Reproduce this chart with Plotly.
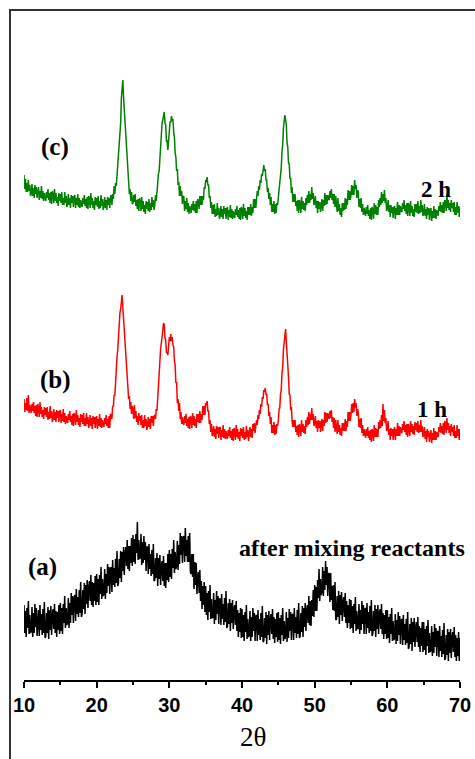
import plotly.graph_objects as go

# 2-theta sampling grid (degrees), 0.1 deg steps from 10 to 70
two_theta = [round(10 + 0.1 * i, 1) for i in range(601)]

# (c) 2 h -- intensity (a.u., stacked); one row = 1 degree
int_2h = [
    505, 491, 501, 488, 497, 488, 500, 489, 495, 484,
    487, 496, 484, 492, 482, 495, 486, 493, 482, 492,
    493, 480, 489, 482, 494, 481, 489, 479, 487, 482,
    479, 488, 482, 491, 480, 487, 477, 488, 476, 489,
    486, 477, 491, 479, 487, 477, 483, 474, 487, 479,
    486, 477, 488, 475, 482, 475, 488, 477, 484, 473,
    477, 486, 475, 482, 472, 485, 477, 484, 473, 483,
    485, 472, 482, 475, 486, 473, 482, 472, 480, 475,
    473, 482, 476, 485, 474, 481, 472, 483, 471, 484,
    481, 472, 487, 475, 482, 472, 479, 470, 483, 475,
    482, 473, 484, 471, 479, 472, 485, 474, 481, 470,
    474, 483, 472, 480, 470, 483, 475, 482, 472, 482,
    485, 475, 486, 481, 494, 486, 497, 494, 505, 508,
    520, 528, 547, 557, 582, 593, 600, 583, 570, 555,
    548, 527, 522, 502, 500, 486, 491, 479, 488, 476,
    477, 485, 478, 486, 474, 480, 471, 481, 469, 482,
    478, 469, 483, 471, 479, 468, 475, 466, 479, 471,
    478, 469, 481, 468, 477, 470, 483, 473, 480, 470,
    475, 485, 479, 491, 491, 506, 509, 525, 532, 551,
    557, 560, 568, 568, 557, 555, 539, 539, 530, 543,
    545, 558, 558, 564, 559, 561, 547, 543, 527, 523,
    509, 511, 495, 498, 484, 494, 484, 489, 476, 484,
    483, 469, 479, 471, 482, 468, 477, 466, 474, 469,
    467, 476, 470, 479, 469, 476, 467, 479, 467, 481,
    479, 471, 484, 475, 484, 475, 484, 480, 493, 491,
    500, 498, 503, 495, 495, 482, 484, 472, 478, 466,
    475, 466, 476, 463, 471, 464, 477, 465, 472, 461,
    465, 474, 463, 471, 461, 474, 466, 472, 461, 471,
    473, 460, 470, 463, 475, 462, 471, 461, 469, 464,
    462, 471, 465, 474, 463, 470, 461, 472, 460, 473,
    470, 461, 476, 464, 472, 462, 469, 460, 473, 465,
    473, 465, 476, 464, 473, 467, 481, 472, 481, 472,
    479, 489, 484, 494, 490, 500, 497, 506, 504, 512,
    515, 509, 511, 500, 500, 488, 492, 481, 487, 475,
    483, 468, 476, 468, 479, 466, 476, 467, 477, 475,
    482, 494, 495, 508, 512, 528, 535, 552, 558, 565,
    560, 555, 537, 533, 517, 516, 501, 502, 487, 493,
    478, 486, 478, 486, 474, 479, 469, 480, 467, 480,
    476, 467, 483, 471, 479, 470, 477, 469, 482, 475,
    485, 477, 489, 477, 486, 480, 493, 481, 487, 475,
    477, 484, 472, 479, 467, 479, 471, 478, 468, 478,
    481, 469, 480, 474, 487, 475, 485, 476, 485, 481,
    480, 489, 482, 491, 480, 486, 476, 486, 473, 484,
    478, 468, 482, 469, 476, 465, 472, 463, 477, 469,
    477, 470, 482, 471, 481, 475, 490, 480, 489, 480,
    485, 495, 485, 494, 485, 500, 491, 495, 482, 490,
    488, 473, 481, 472, 482, 468, 476, 465, 472, 467,
    464, 473, 466, 475, 464, 470, 461, 472, 460, 473,
    470, 461, 477, 466, 475, 465, 473, 465, 480, 473,
    482, 475, 488, 477, 486, 479, 490, 477, 482, 469,
    472, 480, 468, 475, 463, 475, 467, 473, 462, 472,
    474, 461, 472, 465, 478, 465, 475, 465, 474, 469,
    468, 477, 471, 480, 469, 475, 466, 477, 464, 477,
    473, 464, 479, 467, 474, 464, 471, 463, 476, 468,
    476, 467, 479, 466, 474, 467, 480, 468, 475, 464,
    467, 476, 464, 471, 461, 473, 465, 472, 460, 470,
    472, 459, 469, 462, 474, 462, 471, 461, 470, 465,
    465, 474, 469, 478, 468, 475, 467, 478, 467, 480,
    478, 469, 486, 472, 480, 470, 477, 468, 480, 472,
    477, 468, 478, 465, 473, 465, 478, 467, 474, 463,
    473,
]

# (b) 1 h
int_1h = [
    281, 268, 277, 270, 282, 269, 285, 267, 275, 270,
    267, 276, 269, 278, 267, 274, 264, 275, 263, 276,
    272, 263, 278, 266, 273, 263, 270, 261, 273, 265,
    272, 263, 273, 260, 268, 261, 274, 262, 269, 258,
    262, 271, 260, 268, 258, 270, 262, 269, 258, 268,
    270, 257, 266, 259, 271, 258, 267, 256, 264, 259,
    257, 266, 260, 269, 258, 264, 255, 266, 254, 267,
    264, 255, 270, 258, 265, 255, 262, 253, 266, 258,
    265, 256, 267, 254, 262, 254, 267, 256, 263, 252,
    256, 265, 254, 262, 251, 264, 256, 263, 252, 262,
    264, 251, 261, 254, 266, 253, 262, 252, 260, 255,
    253, 262, 256, 265, 254, 261, 252, 264, 252, 266,
    265, 261, 274, 273, 285, 284, 301, 305, 323, 330,
    347, 353, 367, 371, 382, 385, 373, 362, 343, 334,
    319, 313, 297, 296, 281, 284, 271, 278, 266, 274,
    271, 261, 275, 262, 269, 258, 264, 255, 267, 259,
    264, 255, 265, 252, 260, 252, 265, 254, 261, 250,
    254, 263, 253, 261, 251, 264, 257, 264, 254, 264,
    265, 261, 271, 269, 283, 287, 305, 312, 331, 337,
    349, 350, 357, 355, 342, 340, 327, 328, 325, 338,
    343, 339, 346, 339, 343, 335, 333, 319, 315, 297,
    298, 277, 281, 269, 277, 261, 268, 256, 263, 257,
    255, 264, 257, 266, 254, 261, 252, 263, 251, 264,
    261, 252, 267, 255, 264, 254, 261, 252, 266, 258,
    266, 257, 269, 257, 266, 260, 274, 265, 274, 265,
    277, 275, 279, 269, 269, 256, 260, 248, 256, 244,
    246, 254, 243, 251, 241, 254, 246, 253, 242, 252,
    253, 240, 250, 243, 255, 242, 251, 241, 249, 244,
    241, 250, 244, 253, 242, 249, 240, 251, 239, 252,
    249, 240, 255, 243, 251, 241, 248, 239, 252, 244,
    251, 242, 253, 240, 248, 241, 254, 243, 250, 239,
    244, 253, 243, 251, 242, 256, 249, 257, 247, 258,
    260, 255, 265, 261, 270, 266, 276, 273, 283, 281,
    290, 288, 292, 285, 286, 275, 276, 264, 268, 256,
    263, 247, 255, 247, 258, 245, 255, 246, 256, 254,
    259, 271, 272, 286, 290, 306, 313, 330, 338, 350,
    351, 338, 328, 309, 303, 286, 285, 270, 273, 258,
    253, 260, 253, 260, 248, 254, 245, 255, 243, 256,
    253, 244, 260, 248, 256, 247, 254, 246, 260, 253,
    263, 255, 268, 256, 266, 260, 272, 260, 266, 254,
    257, 264, 252, 259, 248, 260, 252, 259, 248, 258,
    261, 249, 260, 254, 268, 257, 267, 258, 267, 263,
    261, 269, 262, 270, 258, 263, 252, 262, 248, 260,
    255, 246, 260, 248, 255, 245, 252, 244, 257, 249,
    257, 249, 261, 249, 259, 253, 268, 259, 268, 259,
    265, 276, 267, 277, 268, 281, 272, 277, 264, 271,
    268, 253, 261, 252, 262, 247, 255, 244, 251, 245,
    242, 251, 244, 253, 242, 249, 240, 250, 238, 251,
    248, 239, 255, 243, 252, 243, 251, 243, 258, 251,
    260, 252, 265, 254, 276, 259, 270, 257, 262, 249,
    252, 259, 245, 251, 240, 252, 244, 251, 240, 250,
    253, 240, 251, 244, 257, 244, 254, 244, 253, 248,
    247, 256, 250, 259, 248, 255, 245, 256, 243, 256,
    252, 244, 259, 248, 256, 246, 254, 245, 258, 250,
    257, 248, 259, 247, 255, 248, 260, 248, 254, 243,
    245, 253, 241, 249, 238, 251, 243, 249, 238, 248,
    250, 237, 247, 240, 252, 240, 249, 240, 248, 244,
    243, 253, 248, 257, 247, 254, 246, 257, 245, 259,
    256, 247, 262, 250, 257, 247, 254, 244, 256, 248,
    253, 244, 255, 242, 249, 242, 255, 244, 251, 240,
    251,
]

# (a) after mixing reactants
int_mix = [
    75, 47, 69, 43, 72, 52, 79, 46, 65, 47,
    49, 73, 43, 67, 47, 76, 53, 72, 44, 69,
    70, 44, 75, 50, 66, 45, 71, 47, 78, 42,
    44, 67, 47, 73, 41, 70, 50, 74, 45, 65,
    71, 51, 76, 47, 69, 43, 68, 50, 75, 46,
    77, 49, 72, 46, 76, 57, 84, 52, 72, 55,
    57, 82, 52, 77, 57, 87, 65, 84, 57, 82,
    85, 59, 91, 66, 83, 63, 90, 67, 98, 63,
    66, 90, 71, 97, 66, 95, 76, 100, 72, 92,
    99, 79, 105, 75, 98, 73, 97, 79, 104, 75,
    106, 78, 101, 75, 105, 86, 113, 81, 101, 84,
    86, 111, 81, 106, 87, 116, 94, 113, 86, 111,
    113, 88, 120, 95, 112, 93, 121, 97, 129, 94,
    97, 121, 102, 129, 98, 128, 109, 133, 105, 126,
    133, 114, 140, 111, 134, 109, 134, 117, 142, 114,
    145, 118, 141, 116, 146, 127, 158, 120, 140, 121,
    123, 146, 115, 138, 117, 144, 120, 138, 109, 133,
    133, 106, 136, 111, 126, 104, 130, 106, 136, 99,
    100, 122, 102, 127, 94, 122, 101, 125, 95, 114,
    119, 99, 124, 94, 117, 92, 117, 100, 126, 98,
    130, 103, 126, 101, 131, 112, 140, 107, 128, 111,
    114, 139, 110, 135, 116, 147, 125, 144, 117, 142,
    144, 118, 152, 124, 140, 118, 144, 118, 147, 108,
    106, 126, 103, 126, 91, 118, 95, 117, 86, 104,
    108, 87, 110, 79, 99, 71, 94, 75, 98, 68,
    94, 65, 87, 60, 89, 68, 95, 61, 81, 62,
    63, 87, 56, 80, 60, 89, 66, 84, 56, 81,
    81, 55, 86, 61, 76, 55, 82, 58, 89, 52,
    54, 77, 56, 81, 49, 77, 57, 80, 51, 70,
    75, 55, 79, 49, 70, 43, 67, 48, 72, 42,
    71, 43, 65, 39, 68, 48, 75, 41, 61, 43,
    45, 69, 39, 63, 43, 72, 49, 67, 39, 64,
    65, 39, 70, 45, 61, 40, 67, 43, 74, 38,
    39, 62, 42, 68, 36, 65, 45, 69, 40, 60,
    66, 46, 71, 41, 63, 37, 61, 43, 67, 38,
    68, 40, 62, 36, 65, 45, 72, 39, 59, 41,
    44, 68, 38, 62, 42, 71, 49, 68, 40, 65,
    66, 40, 72, 47, 63, 42, 70, 46, 77, 42,
    44, 67, 48, 74, 43, 72, 53, 77, 49, 69,
    75, 57, 84, 55, 79, 54, 80, 64, 90, 63,
    95, 69, 93, 69, 100, 82, 111, 79, 101, 85,
    88, 113, 84, 109, 90, 119, 95, 113, 84, 107,
    106, 78, 107, 80, 94, 70, 95, 69, 98, 60,
    61, 84, 63, 89, 56, 85, 65, 88, 59, 78,
    83, 63, 87, 57, 79, 52, 75, 57, 81, 51,
    80, 52, 74, 47, 76, 56, 83, 49, 69, 51,
    52, 76, 46, 70, 50, 79, 56, 75, 46, 71,
    72, 46, 77, 52, 68, 47, 74, 49, 80, 44,
    46, 69, 49, 75, 43, 71, 51, 75, 46, 66,
    71, 51, 76, 46, 67, 41, 65, 46, 70, 41,
    70, 42, 63, 37, 66, 46, 72, 39, 59, 40,
    42, 66, 36, 60, 39, 68, 45, 64, 36, 60,
    61, 35, 65, 40, 56, 35, 61, 37, 68, 31,
    33, 56, 36, 62, 29, 58, 38, 62, 33, 52,
    58, 38, 63, 33, 54, 28, 52, 34, 58, 28,
    58, 30, 51, 25, 54, 34, 60, 27, 47, 28,
    30, 54, 24, 48, 27, 56, 33, 52, 24, 48,
    49, 23, 54, 29, 44, 23, 50, 26, 57, 20,
    22, 45, 25, 51, 19, 48, 27, 51, 22, 42,
    48, 28, 53, 23, 45, 19, 42, 24, 48, 19,
    42,
]

x_ticks = [10, 20, 30, 40, 50, 60, 70]
minor_ticks = [15, 25, 35, 45, 55, 65]

fig = go.Figure()
fig.add_trace(go.Scatter(x=two_theta, y=int_mix, mode="lines",
                         line=dict(color="black", width=1.5)))
fig.add_trace(go.Scatter(x=two_theta, y=int_1h, mode="lines",
                         line=dict(color="#ff0000", width=1.5)))
fig.add_trace(go.Scatter(x=two_theta, y=int_2h, mode="lines",
                         line=dict(color="#008000", width=1.5)))

serif_b = dict(family="Liberation Serif, Times New Roman, serif", color="black", weight="bold")

annots = [
    dict(x=14.27, y=533, text="(c)", font=dict(size=25, **serif_b)),
    dict(x=14.27, y=300, text="(b)", font=dict(size=25, **serif_b)),
    dict(x=12.48, y=113, text="(a)", font=dict(size=25, **serif_b)),
    dict(x=66.7, y=491, text="2 h", font=dict(size=23, **serif_b)),
    dict(x=66.14, y=271, text="1 h", font=dict(size=23, **serif_b)),
    dict(x=55.13, y=132, text="after mixing reactants", font=dict(size=24, **serif_b)),
]
for a in annots:
    a.update(xref="x", yref="y", showarrow=False, xanchor="center", yanchor="middle")
fig.update_layout(annotations=annots)
fig.add_annotation(x=41.5, y=-0.085, xref="x", yref="paper", text="2θ", showarrow=False,
                   xanchor="center", yanchor="middle",
                   font=dict(family="Liberation Serif, Times New Roman, serif", size=27, color="black"))

# outer frame
fig.add_shape(type="rect", xref="paper", yref="paper",
              x0=-0.0321, x1=1.2, y0=-0.3, y1=1.0,
              line=dict(color="#333333", width=2), fillcolor="rgba(0,0,0,0)", layer="above")

fig.update_layout(
    width=475, height=759,
    margin=dict(l=24, r=15, t=10, b=79, pad=0, autoexpand=False),
    paper_bgcolor="white", plot_bgcolor="white",
    showlegend=False,
    xaxis=dict(range=[10, 70], tickvals=x_ticks, ticktext=[str(v) for v in x_ticks],
               automargin=False,
               showline=True, linecolor="black", linewidth=1.5,
               ticks="outside", ticklen=6, tickwidth=1.5, tickcolor="black",
               minor=dict(tickvals=minor_ticks, ticks="outside", ticklen=3, tickwidth=1.5, tickcolor="black"),
               tickfont=dict(family="Liberation Sans, Arial, sans-serif", size=20, color="black", weight="bold"),
               showgrid=False, zeroline=False),
    yaxis=dict(range=[0, 670], visible=False, showgrid=False, zeroline=False, automargin=False),
)

fig.write_html("out.html")
